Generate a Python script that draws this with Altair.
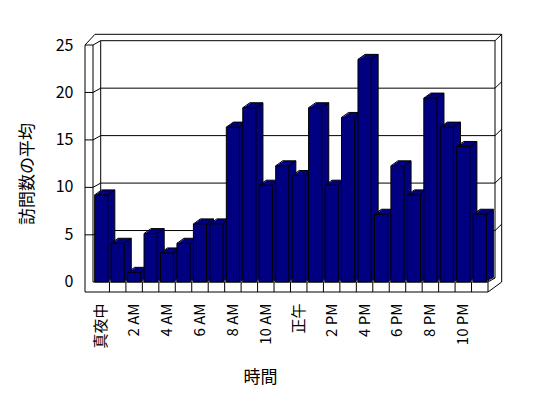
import altair as alt
import pandas as pd

# ---- data ----
hours = ["真夜中"] + [f"{h} AM" for h in range(1, 12)] + ["正午"] + [f"{h} PM" for h in range(1, 12)]
visits = [9, 4, 1, 5, 3, 4, 6, 6, 16, 18, 10, 12, 11, 18, 10, 17, 23, 7, 12, 9, 19, 16, 14, 7]
tick_values = [0, 5, 10, 15, 20, 25]
grid_values = [5, 10, 15, 20]
x_labels = hours[::2]
y_title = "訪問数の平均"
x_title = "時間"

# ---- styling / geometry ----
W, H = 395, 242
DX, DY = 7, -5
NAVY = "#000080"
FONT = "Noto Sans CJK JP"

df = pd.DataFrame({"hour": hours, "visits": visits})
grid_df = pd.DataFrame({"v": grid_values})
tick_df = pd.DataFrame({"v": tick_values})
div_df = pd.DataFrame({"hour": hours[1:]})

# 3D frame outline segments (pixel coords relative to plot origin)
frame_segments = [
    (-8, 5, -8, H + 10), (0, 5, 0, H), (7.7, 0.7, 7.7, 238), (402, 0.7, 402, 238),
    (408.7, -5.7, 408.7, H), (W, H, W, H + 10),
    (2, -5.7, 408.7, -5.7), (7.7, 0.7, 402, 0.7), (-8, 5, 0, 5), (0, H, W, H),
    (-8, H + 10, W, H + 10), (7.7, 238, 402, 238),
    (-8, 5, 2, -5.7), (0, 5, 7.7, 0.7), (402, 0.7, 408.7, -5.7),
    (W, H + 10, 408.7, H), (W, H, 402, 238),
]
frame_df = pd.DataFrame(frame_segments, columns=["x1", "y1", "x2", "y2"])

xs = alt.Scale(domain=hours, paddingInner=0.2, paddingOuter=0.1)
ybar = alt.Scale(domain=[0, 25], nice=False)
ygrid = alt.Scale(domain=[0, 25], range=[238, 0.7], nice=False)
ylab = alt.Scale(domain=[0, 25], range=[241.5, 5], nice=False)


def XB(bp):
    return alt.X("hour:N", scale=xs, bandPosition=bp, axis=None)


YB = alt.Y("visits:Q", scale=ybar, axis=None)
line = dict(color="black", strokeWidth=1)

frame = alt.Chart(frame_df).mark_rule(**line).encode(
    x=alt.X("x1:Q", scale=None, axis=None), x2="x2:Q",
    y=alt.Y("y1:Q", scale=None, axis=None), y2="y2:Q",
)

grid = alt.Chart(grid_df).mark_rule(**line).encode(
    x=alt.value(7.7), x2=alt.value(402),
    y=alt.Y("v:Q", scale=ygrid, axis=None),
)
grid_right = alt.Chart(grid_df).mark_rule(y2Offset=-6.4, **line).encode(
    x=alt.value(402), x2=alt.value(408.7),
    y=alt.Y("v:Q", scale=ygrid, axis=None), y2=alt.Y2("v"),
)
grid_left = alt.Chart(grid_df).mark_rule(yOffset=4.3, **line).encode(
    x=alt.value(0), x2=alt.value(7.7),
    y=alt.Y("v:Q", scale=ygrid, axis=None), y2=alt.Y2("v"),
)
front_ticks = alt.Chart(grid_df).mark_rule(yOffset=4.3, **line).encode(
    x=alt.value(-8), x2=alt.value(0),
    y=alt.Y("v:Q", scale=ygrid, axis=None),
)

dividers = alt.Chart(div_df).mark_rule(xOffset=-1.65, **line).encode(
    x=XB(0), y=alt.value(H), y2=alt.value(H + 10),
)

yaxis = alt.Axis(
    values=tick_values, orient="left", ticks=False, domain=False, grid=False,
    labelPadding=20, labelFont=FONT, labelFontSize=16, labelColor="black",
    title=y_title, titleFont=FONT, titleFontSize=17, titleFontWeight="normal",
    titleColor="black", titleX=-66, titleY=133.5, titleAlign="center",
    titleBaseline="middle", titleAngle=270,
)
labels = alt.Chart(tick_df).mark_rule(strokeOpacity=0).encode(
    y=alt.Y("v:Q", scale=ylab, axis=yaxis),
)

layers = [frame, grid, grid_right, grid_left, front_ticks, dividers, labels]

for t in [0.2, 0.4, 0.6, 0.8, 1.0]:
    layers.append(
        alt.Chart(df).mark_bar(
            color=NAVY, strokeWidth=0,
            xOffset=DX * t, x2Offset=DX * t, yOffset=DY * t, y2Offset=DY * t,
        ).encode(x=alt.X("hour:N", scale=xs, axis=None), y=YB)
    )

# edges of the 3D bars
layers.append(alt.Chart(df).mark_rule(xOffset=DX, x2Offset=DX, yOffset=DY, **line).encode(
    x=XB(0), x2=alt.X2("hour", bandPosition=1), y=YB))
layers.append(alt.Chart(df).mark_rule(xOffset=DX, yOffset=DY, **line).encode(
    x=XB(1), y=YB, y2=alt.value(H + DY)))
for bp in (0, 1):
    layers.append(alt.Chart(df).mark_rule(x2Offset=DX, y2Offset=DY, **line).encode(
        x=XB(bp), x2=alt.X2("hour", bandPosition=bp), y=YB, y2=alt.Y2("visits")))
layers.append(alt.Chart(df).mark_rule(x2Offset=DX, **line).encode(
    x=XB(1), x2=alt.X2("hour", bandPosition=1), y=alt.value(H), y2=alt.value(H + DY)))

xaxis = alt.Axis(
    values=x_labels, labelAngle=-90, labelPadding=21, ticks=False, domain=False,
    grid=False, labelFont=FONT, labelFontSize=15, labelColor="black",
    title=x_title, titleFont=FONT, titleFontSize=17, titleFontWeight="normal",
    titleColor="black", titleX=167, titleY=95, titleAlign="center",
    titleBaseline="middle",
)
front = alt.Chart(df).mark_bar(color=NAVY, stroke="black", strokeWidth=1).encode(
    x=alt.X("hour:N", scale=xs, axis=xaxis), y=YB,
)
layers.append(front)

chart = alt.layer(*layers).resolve_scale(x="independent", y="independent").properties(
    width=W, height=H,
    autosize=alt.AutoSizeParams(type="none"),
    padding={"left": 85, "top": 32, "right": 52, "bottom": 108},
    background="white",
).configure_view(stroke=None)

chart.save("out.html", embed_options={"renderer": "svg", "actions": False})
